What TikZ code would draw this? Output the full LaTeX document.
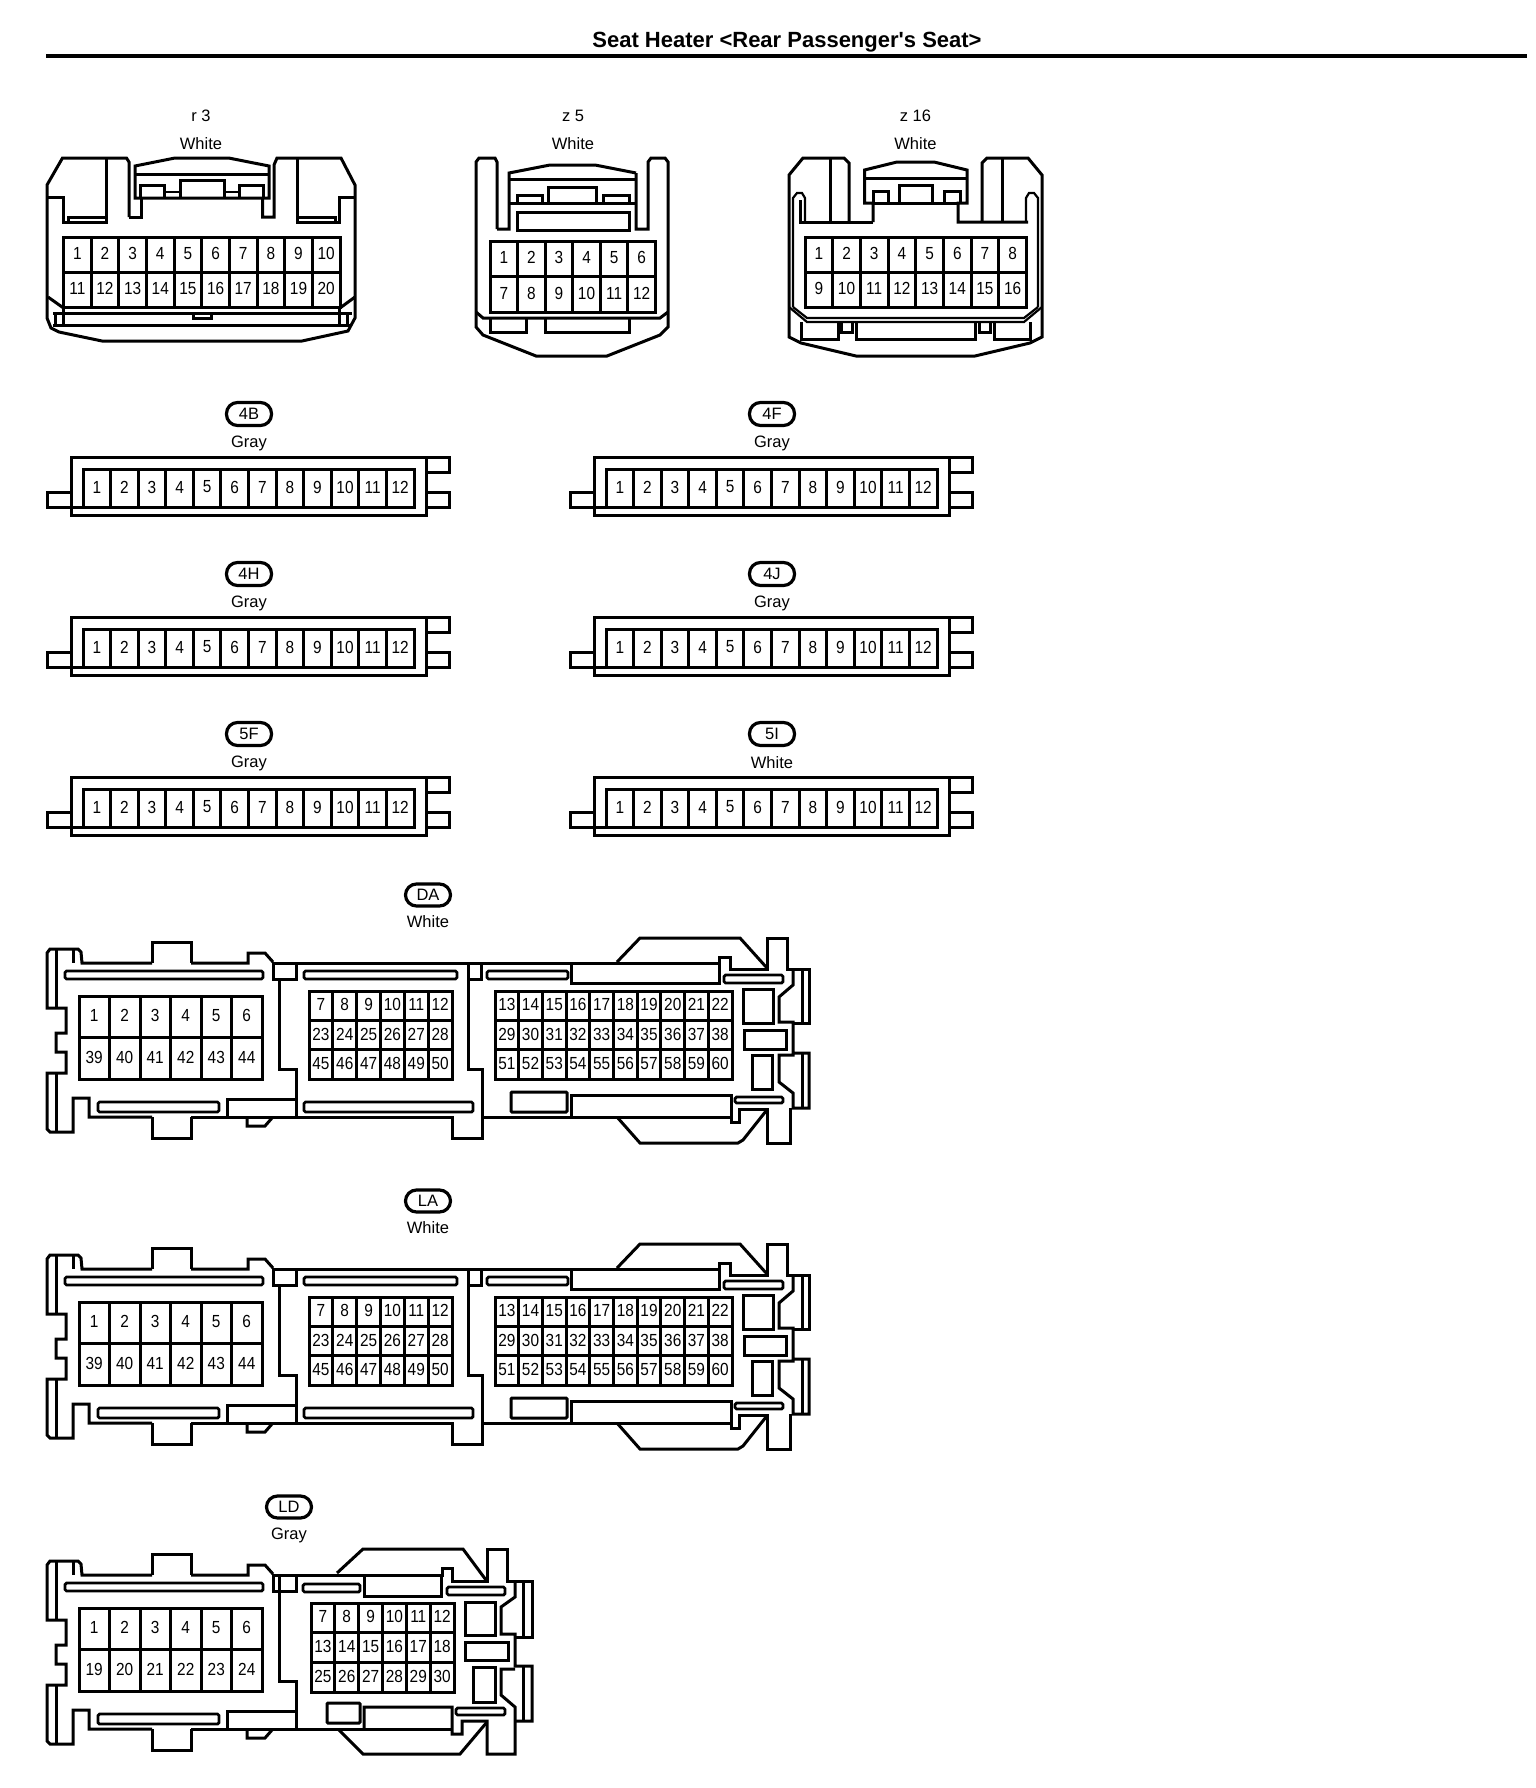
\documentclass[tikz,border=0pt]{standalone}
\usepackage{fontspec}
\setmainfont{Liberation Sans}
\newfontfamily\pinfont[FakeStretch=0.88]{Liberation Sans}
\newfontfamily\titlefont{Liberation Sans}
\tikzset{
  ln/.style={draw=black,line width=3pt,line join=miter,line cap=butt},
  rc/.style={rounded corners=1pt},
  slot/.style={ln,rounded corners=1.5pt,line width=2.8pt},
  pin/.style={inner sep=0pt,font=\pinfont\fontsize{17.5}{18}\selectfont},
  lab/.style={inner sep=0pt,font=\fontsize{16.5}{18}\selectfont},
  capsule/.style={draw=black,line width=3.2pt,rounded corners=11pt,minimum width=45pt,minimum height=23pt,inner sep=0pt,font=\fontsize{16.5}{18}\selectfont},
  titlelab/.style={inner sep=0pt,font=\titlefont\bfseries\fontsize{22}{24}\selectfont}
}
% name, x0, y0, x1, y1, cols, rows, labels
\newcommand{\pingrid}[8]{%
  \draw[ln] (#2,#3) rectangle (#4,#5);
  \foreach \k in {1,...,#6}{\ifnum\k<#6\relax
    \draw[ln] ({#2+\k*(#4-#2)/#6},#3) -- ({#2+\k*(#4-#2)/#6},#5);\fi}
  \foreach \k in {1,...,#7}{\ifnum\k<#7\relax
    \draw[ln] (#2,{#3+\k*(#5-#3)/#7}) -- (#4,{#3+\k*(#5-#3)/#7});\fi}
  \foreach \t [count=\i from 0] in {#8}{%
    \pgfmathtruncatemacro\cc{mod(\i,#6)}%
    \pgfmathtruncatemacro\rr{div(\i,#6)}%
    \node[pin] (#1-\t) at ({#2+(\cc+.5)*(#4-#2)/#6},{#3+(\rr+.5)*(#5-#3)/#7-1}) {\t};
  }%
}
% name, dx, dy, capsule text, colour
\newcommand{\twelve}[5]{%
  \begin{scope}[shift={(#2pt,-#3pt)}]
    \node[capsule] (#1-cap) at (249,414) {#4};
    \node[lab] (#1-col) at (249,443) {#5};
    \draw[ln] (71,457) rectangle (426,515);
    \draw[ln] (71,492) -- (47,492) -- (47,507) -- (83,507);
    \draw[ln] (426,457) rectangle (449,472);
    \draw[ln] (426,492) rectangle (449,507);
    \pingrid{#1}{83}{469}{414}{507}{12}{1}{1,2,3,4,5,6,7,8,9,10,11,12}
  \end{scope}%
}
% left part common to DA, LA, LD
\newcommand{\leftpart}{%
  \draw[ln] (152,963) -- (82,963) -- (81,952) -- (78,949) -- (50,949) -- (47,953) -- (47,1008) -- (66,1008) -- (66,1033) -- (56,1033) -- (56,1052) -- (66,1052) -- (66,1073) -- (47,1073) -- (47,1129) -- (50,1132) -- (73,1132) -- (73,1098) -- (89,1098) -- (89,1117) -- (152,1117);
  \draw[ln] (56,949) -- (56,1008);
  \draw[ln] (56,1073) -- (56,1132);
  \draw[ln] (73,949) -- (73,963);
  \draw[ln] (152,963) -- (152,942) -- (191,942) -- (191,963);
  \draw[ln] (152,1117) -- (152,1138) -- (191,1138) -- (191,1117);
  \draw[ln] (191,963) -- (248,963) -- (248,953) -- (265,953) -- (273,962);
  \draw[slot] (65,971) rectangle (263,979);
  \draw[ln] (273,963) rectangle (296,979);
  \draw[ln] (279,979) -- (279,1069) -- (296,1069) -- (296,1117);
  \draw[slot] (98,1102) rectangle (219,1112);
  \draw[ln] (227,1117) -- (227,1099) -- (296,1099);
  \draw[ln] (191,1117) -- (296,1117);
  \draw[ln] (247,1117) -- (247,1126) -- (265,1126) -- (272,1118);
}
\newcommand{\fullright}{%
  \draw[ln] (296,963) -- (719,963);
  \draw[slot] (304,971) rectangle (457,979);
  \draw[slot] (304,1102) rectangle (473,1112);
  \draw[ln] (468,963) rectangle (481,979);
  \draw[ln] (468,979) -- (468,1069) -- (482,1069) -- (482,1138) -- (452,1138) -- (452,1117) -- (296,1117);
  \draw[ln] (482,1117) -- (731,1117);
  \draw[slot] (487,971) rectangle (568,979);
  \draw[ln] (571,963) -- (571,983) -- (719,983) -- (719,957) -- (730,957) -- (730,969) -- (767,969) -- (767,938) -- (787,938) -- (787,969) -- (809,969) -- (809,1023) -- (793,1023);
  \draw[ln] (617,962) -- (640,938) -- (740,938) -- (767,968);
  \draw[ln] (793,969) -- (793,985) -- (779,997) -- (779,1022) -- (793,1022) -- (793,1055) -- (779,1055) -- (779,1082) -- (793,1093) -- (793,1108) -- (809,1108) -- (809,1053) -- (793,1053);
  \draw[ln] (802,969) -- (802,1023);
  \draw[ln] (802,1053) -- (802,1108);
  \draw[ln] (790,1108) -- (790,1143) -- (767,1143) -- (767,1109) -- (739,1109) -- (739,1122) -- (731,1122) -- (731,1095) -- (571,1095) -- (571,1117);
  \draw[ln] (617,1117) -- (640,1143) -- (738,1143) -- (743,1140) -- (766,1111);
  \draw[slot] (724,975) rectangle (783,983);
  \draw[slot] (735,1097) rectangle (783,1103);
  \draw[ln] (743,989) rectangle (773,1023);
  \draw[ln] (744,1030) rectangle (786,1049);
  \draw[ln] (752,1055) rectangle (772,1089);
  \draw[ln,rc] (511,1092) rectangle (567,1112);
}
\begin{document}
\begin{tikzpicture}[x=1pt,y=-1pt]
\useasboundingbox (0,0) rectangle (1536,1788);
\fill[white] (0,0) rectangle (1536,1788);
% title
\node[titlelab] (title) at (787,42.5) {Seat Heater <Rear Passenger's Seat>};
\draw[line width=4pt] (46,55.5) -- (1527,55.5);
% r3
\node[lab] (r3-name) at (201,116) {r 3};
\node[lab] (r3-col) at (201,143.5) {White};
\draw[ln] (129,217) -- (129,162) -- (126.5,158) -- (62.5,158) -- (47,185) -- (47,318) -- (51,328) -- (59,332) -- (102,341) -- (302,341) -- (348,331) -- (355,318) -- (355,185) -- (341,158) -- (277,158) -- (274,165) -- (274,217) -- (262.5,217) -- (262.5,198);
\draw[ln] (129,217) -- (141.5,217) -- (141.5,198);
\draw[ln] (135,198) -- (135,166) -- (175,158) -- (228.6,158) -- (269,166) -- (269,198) -- cycle;
\draw[ln] (135,174) -- (269,174);
\draw[ln] (140,197) -- (140,185) -- (164,185) -- (164,197);
\draw[ln] (180,197) -- (180,180) -- (224,180) -- (224,197);
\draw[ln] (239,197) -- (239,185) -- (263,185) -- (263,197);
\draw[line width=2pt] (164,192) -- (180,192);
\draw[line width=2pt] (224,192) -- (239,192);
\draw[ln] (48,197) -- (63.5,197) -- (63.5,222) -- (106,222) -- (106,158);
\draw[ln] (68,222) -- (68,217) -- (106,217);
\draw[ln] (297,158) -- (297,222) -- (339,222) -- (339,197) -- (355,197);
\draw[ln] (297,217) -- (335,217) -- (335,222);
\draw[ln] (48,297) -- (63.5,308);
\draw[ln] (340,308) -- (355,297);
\draw[ln] (53,313) -- (352,313);
\draw[ln] (53,325) -- (352,325);
\draw[ln] (55,313) -- (55,325);
\draw[ln] (63.5,307) -- (63.5,325);
\draw[ln] (339,307) -- (339,325);
\draw[ln] (347,313) -- (347,325);
\draw[ln] (193,313) -- (193,318) -- (211,318) -- (211,313);
\pingrid{r3}{63.5}{237}{340}{307}{10}{2}{1,2,3,4,5,6,7,8,9,10,11,12,13,14,15,16,17,18,19,20}
% z5
\node[lab] (z5-name) at (573,116) {z 5};
\node[lab] (z5-col) at (573,143.5) {White};
\draw[ln] (497,229) -- (497,162) -- (495,158) -- (479,158) -- (476,162) -- (476,327) -- (483,335) -- (536,356) -- (607,356) -- (660,335) -- (668,327) -- (668,162) -- (665,158) -- (651,158) -- (648,162) -- (648,229) -- (636,229) -- (636,173);
\draw[ln] (497,229) -- (509,229) -- (509,173) -- (550,165) -- (595,165) -- (636,173);
\draw[ln] (509,179) -- (636,179);
\draw[ln] (509,203) -- (636,203);
\draw[ln] (517,203) -- (517,195) -- (542,195) -- (542,203);
\draw[ln] (548,203) -- (548,187) -- (596,187) -- (596,203);
\draw[ln] (603,203) -- (603,195) -- (629,195) -- (629,203);
\draw[ln] (517,212) rectangle (629,230);
\draw[ln] (476,312) -- (483,318) -- (660,318) -- (668,312);
\draw[ln] (490,318) -- (490,332) -- (526,332) -- (526,318);
\draw[ln] (545,318) -- (545,332) -- (629,332) -- (629,318);
\pingrid{z5}{490}{241}{655.5}{312}{6}{2}{1,2,3,4,5,6,7,8,9,10,11,12}
% z16
\node[lab] (z16-name) at (915.5,116) {z 16};
\node[lab] (z16-col) at (915.5,143.5) {White};
\draw[ln] (873,222) -- (873,203) -- (864.5,203) -- (864.5,170) -- (897,162) -- (934,162) -- (967,170) -- (967,203) -- (958,203) -- (958,222) -- (1028,222);
\draw[ln] (873,222) -- (800,222) -- (800,200);
\draw[ln] (849,222) -- (849,163) -- (844,158) -- (803,158) -- (789,175) -- (789,337) -- (801,343) -- (856,356) -- (975,356) -- (1030,343) -- (1042,337) -- (1042,175) -- (1028,158) -- (987,158) -- (982,163) -- (982,222);
\draw[ln] (830,158) -- (830,222);
\draw[ln] (1002.5,158) -- (1002.5,222);
\draw[line width=2.2pt] (793,307) -- (793,198) -- (797,193) -- (802,193) -- (805,198) -- (805,222);
\draw[line width=2.2pt] (1038,307) -- (1038,198) -- (1034,193) -- (1029,193) -- (1026,198) -- (1026,222);
\draw[ln] (864.5,178) -- (967,178);
\draw[ln] (873,203) -- (958,203);
\draw[ln] (873,203) -- (873,191) -- (888,191) -- (888,203);
\draw[ln] (899,203) -- (899,185) -- (932,185) -- (932,203);
\draw[ln] (944,203) -- (944,191) -- (960,191) -- (960,203);
\draw[line width=2.2pt] (789,307) -- (807,322) -- (1024,322) -- (1042,307);
\draw[line width=2.2pt] (793,307) -- (807,318) -- (1024,318) -- (1038,307);
\draw[ln] (801,322) -- (801,339) -- (838,339) -- (838,322);
\draw[ln] (841,322) -- (841,332) -- (852,332) -- (852,322);
\draw[ln] (856,322) -- (856,339) -- (975,339) -- (975,322);
\draw[ln] (979,322) -- (979,332) -- (990,332) -- (990,322);
\draw[ln] (994,322) -- (994,339) -- (1030,339) -- (1030,322);
\pingrid{z16}{805}{237}{1026.5}{307}{8}{2}{1,2,3,4,5,6,7,8,9,10,11,12,13,14,15,16}
% 12-pin connectors
\twelve{fourB}{0}{0}{4B}{Gray}
\twelve{fourF}{523}{0}{4F}{Gray}
\twelve{fourH}{0}{160}{4H}{Gray}
\twelve{fourJ}{523}{160}{4J}{Gray}
\twelve{fiveF}{0}{320}{5F}{Gray}
\twelve{fiveI}{523}{320}{5I}{White}
% DA
\node[capsule,minimum height=22pt] (da-cap) at (428,895) {DA};
\node[lab] (da-col) at (428,922) {White};
\leftpart
\fullright
\pingrid{daA}{79}{996}{262}{1079}{6}{2}{1,2,3,4,5,6,39,40,41,42,43,44}
\pingrid{daB}{309}{991}{452}{1079}{6}{3}{7,8,9,10,11,12,23,24,25,26,27,28,45,46,47,48,49,50}
\pingrid{daC}{495}{991}{732}{1079}{10}{3}{13,14,15,16,17,18,19,20,21,22,29,30,31,32,33,34,35,36,37,38,51,52,53,54,55,56,57,58,59,60}
% LA
\node[capsule,minimum height=22pt] (la-cap) at (428,1201) {LA};
\node[lab] (la-col) at (428,1228) {White};
\begin{scope}[yshift=-306pt]
\leftpart
\fullright
\pingrid{laA}{79}{996}{262}{1079}{6}{2}{1,2,3,4,5,6,39,40,41,42,43,44}
\pingrid{laB}{309}{991}{452}{1079}{6}{3}{7,8,9,10,11,12,23,24,25,26,27,28,45,46,47,48,49,50}
\pingrid{laC}{495}{991}{732}{1079}{10}{3}{13,14,15,16,17,18,19,20,21,22,29,30,31,32,33,34,35,36,37,38,51,52,53,54,55,56,57,58,59,60}
\end{scope}
% LD
\node[capsule,minimum height=22pt] (ld-cap) at (289,1507) {LD};
\node[lab] (ld-col) at (289,1535.5) {Gray};
\begin{scope}[yshift=-612pt]
\leftpart
\pingrid{ldA}{79}{996}{262}{1079}{6}{2}{1,2,3,4,5,6,19,20,21,22,23,24}
\end{scope}
\draw[ln] (279,1575) -- (279,1591);
\draw[ln] (296,1575) -- (442,1575) -- (442,1568) -- (452,1568) -- (452,1581) -- (487,1581) -- (487,1549) -- (507,1549) -- (507,1581) -- (532,1581) -- (532,1637) -- (515,1637);
\draw[ln] (515,1581) -- (515,1597) -- (501,1607) -- (501,1634) -- (515,1634) -- (515,1666) -- (532,1666) -- (532,1721) -- (515,1721);
\draw[ln] (515,1669) -- (501,1669) -- (501,1695) -- (515,1707) -- (515,1754) -- (487,1754) -- (487,1721) -- (462,1721) -- (462,1734) -- (452,1734) -- (452,1707) -- (364,1707) -- (364,1729);
\draw[ln] (296,1729) -- (452,1729);
\draw[ln] (523,1581) -- (523,1637);
\draw[ln] (523,1666) -- (523,1721);
\draw[ln] (337,1573) -- (363,1549) -- (463,1549) -- (486,1580);
\draw[ln] (338,1729) -- (363,1754) -- (460,1754) -- (487,1722);
\draw[ln] (364,1575) -- (364,1596) -- (441,1596) -- (441,1575);
\draw[slot] (303,1584) rectangle (360,1592);
\draw[slot] (447,1587) rectangle (505,1595);
\draw[slot] (456,1708) rectangle (505,1715);
\draw[ln] (465,1602) rectangle (495,1635);
\draw[ln] (465,1642) rectangle (508,1660);
\draw[ln] (473,1667) rectangle (495,1702);
\draw[ln,rc] (327,1703) rectangle (360,1723);
\pingrid{ldB}{311}{1603}{454}{1692}{6}{3}{7,8,9,10,11,12,13,14,15,16,17,18,25,26,27,28,29,30}
\end{tikzpicture}
\end{document}
